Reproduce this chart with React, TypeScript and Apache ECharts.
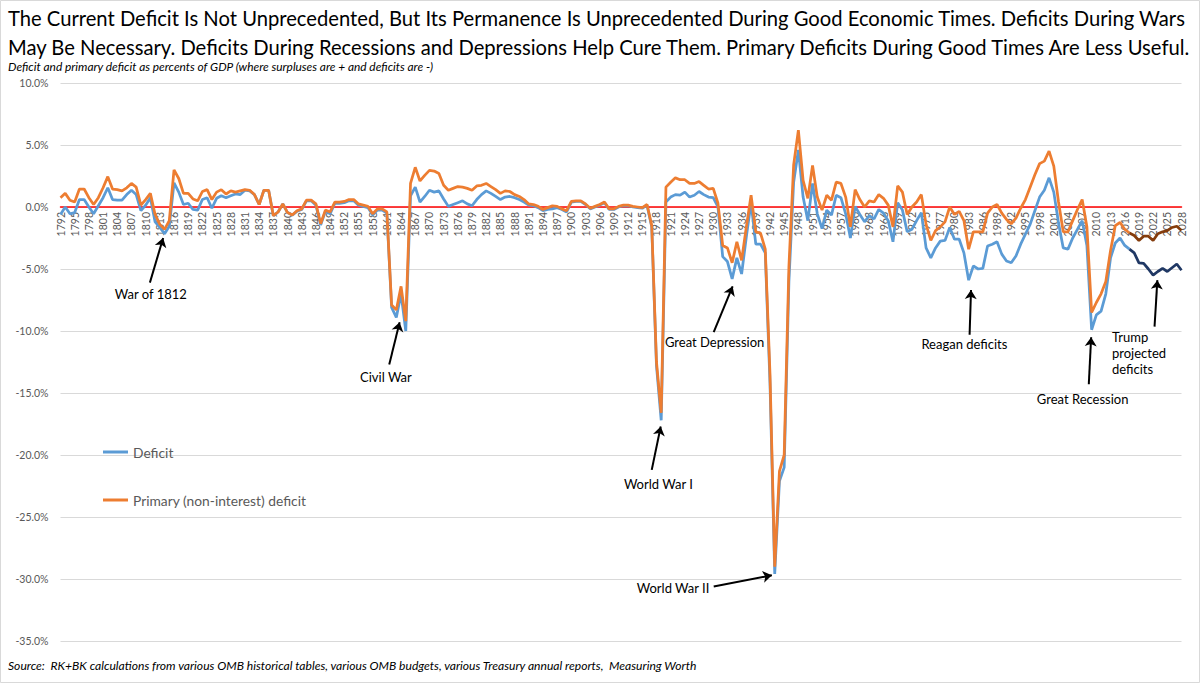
import React, { useEffect, useRef } from 'react'
import * as echarts from 'echarts'

const FONT = 'Lato, "Open Sans", sans-serif'

// fiscal years 1792–1976, the 1976 transition quarter, then 1977–2028
const yearsBeforeTQ: string[] = []
for (let y = 1792; y <= 1976; y++) yearsBeforeTQ.push(String(y))
const yearsAfterTQ: string[] = []
for (let y = 1977; y <= 2028; y++) yearsAfterTQ.push(String(y))
const categories = [...yearsBeforeTQ, 'TQ', ...yearsAfterTQ]

// total deficit, % of GDP, 1792 .. 2017 (TQ included)
const deficitActual = [
  -0.6, 0, -0.55, -0.45, 0.6, 0.6, 0, -0.55,
  0.1, 0.75, 1.55, 0.6, 0.55, 0.55, 1.0, 1.35, 1.0, -0.3,
  0.15, 0.75, -1.2, -1.65, -2.15, -1.55, 1.95, 1.2, 0.2, 0.3,
  -0.2, -0.25, 0.6, 0.75, -0.1, 0.7, 0.9, 0.75, 0.9, 1.05,
  1.0, 1.35, 1.3, 1.0, 0.2, 1.35, 1.35, -0.7, -0.4, 0.25,
  -0.45, -0.65, -0.35, -0.2, 0.5, 0.5, 0.15, -1.45, -0.35, -0.55,
  0.3, 0.3, 0.35, 0.5, 0.5, 0.15, 0.05, -0.05, -0.65, -0.25,
  -0.25, -0.5, -8.1, -8.9, -7.0, -10.0, 0.9, 1.6, 0.4, 0.85,
  1.35, 1.2, 1.3, 0.65, 0.05, 0.2, 0.35, 0.5, 0.25, 0.1,
  0.6, 1.0, 1.3, 1.1, 0.85, 0.6, 0.8, 0.85, 0.75, 0.6,
  0.4, 0.15, 0.1, -0.05, -0.3, -0.2, -0.15, -0.05, -0.2, -0.4,
  0.4, 0.45, 0.45, 0.2, -0.15, 0, 0.15, 0.35, -0.2, -0.2,
  0, 0.1, 0.1, 0, -0.05, -0.1, 0.15, -1.6, -12.8, -17.2,
  0.4, 0.8, 1.0, 0.95, 1.2, 0.8, 0.95, 1.25, 1.0, 0.8,
  0.75, 0, -4.0, -4.4, -5.8, -4.1, -5.4, -2.4, 0.35, -3.0,
  -3.0, -3.7, -14.2, -29.6, -22.1, -21.0, -6.0, 2.0, 4.6, 0.8,
  -1.1, 1.9, -0.55, -1.75, -0.25, -0.65, 0.95, 0.75, -0.55, -2.5,
  0.05, -0.6, -1.2, -0.7, -0.95, -0.2, -0.5, -1.1, -2.8, 0.35,
  -0.25, -2.0, -1.8, -1.1, -0.45, -3.3, -4.1,
  -3.3,
  -2.75, -2.7, -1.65,
  -2.6, -2.6, -3.7, -5.9, -4.75, -5.0, -4.95, -3.15, -3.0, -2.8,
  -3.8, -4.35, -4.5, -3.95, -3.0, -2.2, -1.4, -0.3, 0.8, 1.35,
  2.35, 1.2, -1.3, -3.3, -3.4, -2.5, -1.8, -1.1, -3.1, -9.9,
  -8.7, -8.4, -7.0, -4.1, -2.9, -2.5, -3.1, -3.4,
]

// primary (non-interest) deficit, % of GDP, 1792 .. 2017 (TQ included)
const primaryActual = [
  0.75, 1.1, 0.55, 0.4, 1.45, 1.45, 0.75, 0.2,
  0.75, 1.55, 2.45, 1.45, 1.4, 1.3, 1.55, 1.9, 1.6, 0.15,
  0.6, 1.1, -0.6, -1.4, -1.8, -1.1, 3.0, 2.3, 1.1, 1.1,
  0.65, 0.5, 1.25, 1.4, 0.6, 1.2, 1.4, 1.05, 1.3, 1.2,
  1.3, 1.4, 1.35, 1.0, 0.2, 1.35, 1.35, -0.7, -0.4, 0.25,
  -0.45, -0.65, -0.3, -0.15, 0.55, 0.55, 0.25, -1.35, -0.25, -0.4,
  0.4, 0.4, 0.45, 0.6, 0.6, 0.25, 0.15, 0.05, -0.55, -0.15,
  -0.15, -0.4, -7.9, -8.3, -6.4, -9.2, 1.9, 3.2, 2.1, 2.55,
  2.95, 2.9, 2.7, 1.75, 1.35, 1.5, 1.65, 1.6, 1.5, 1.35,
  1.7, 1.75, 1.9, 1.65, 1.4, 1.1, 1.3, 1.25, 1.0, 0.85,
  0.6, 0.25, 0.2, 0.05, -0.2, -0.05, 0.1, 0.05, -0.15, -0.3,
  0.45, 0.5, 0.5, 0.25, -0.1, 0.05, 0.2, 0.4, -0.15, -0.15,
  0.05, 0.15, 0.15, 0.05, 0, -0.05, 0.2, -1.5, -12.5, -16.6,
  1.6, 2.0, 2.35, 2.2, 2.2, 1.9, 1.9, 2.05, 1.75, 1.45,
  1.5, 0.3, -3.1, -3.3, -4.5, -2.8, -4.3, -1.6, 0.95, -2.0,
  -2.1, -3.4, -13.5, -29.0, -21.3, -20.0, -4.8, 3.4, 6.2, 2.15,
  0.7, 3.35, 0.8, -0.25, 0.95, 0.55, 2.0, 1.9, 0.8, -1.6,
  1.4, 0.6, 0, 0.5, 0.4, 1.0, 0.7, 0.15, -1.6, 1.7,
  1.2, -0.6, 0, 0.4, 1.0, -1.4, -2.7,
  -1.9,
  -1.6, -1.2, 0,
  -0.6, -0.35, -1.1, -3.4, -2.0, -2.0, -2.0, -0.5, 0, 0.2,
  -0.5, -1.0, -1.35, -0.9, -0.1, 0.6, 1.6, 2.6, 3.5, 3.7,
  4.5, 3.3, 0.4, -2.0, -2.0, -1.1, -0.2, 0.6, -1.6, -8.5,
  -7.7, -7.0, -6.0, -3.5, -1.5, -1.25, -1.8, -2.1,
]

// projections 2018 .. 2028
const deficitProjected = [-3.7, -4.5, -4.55, -5.0, -5.5, -5.2, -4.95, -5.2, -4.9, -4.6, -5.1]
const primaryProjected = [-2.3, -2.7, -2.35, -2.35, -2.7, -2.15, -2.0, -1.9, -1.65, -1.55, -1.9]

const yTicks = { min: -35, max: 10, step: 5 }

// annotations, in (category index, percent) units
const notes = [
  { text: 'War of 1812', at: [19.1, -7.0], from: [18.9, -6.1], to: [21.7, -2.5] },
  { text: 'Civil War', at: [68.8, -13.7], from: [69.5, -12.7], to: [71.7, -9.3] },
  { text: 'World War I', at: [126.4, -22.3], from: [125.0, -21.2], to: [126.9, -17.7] },
  { text: 'Great Depression', at: [138.3, -10.9], from: [138.1, -10.1], to: [142.1, -6.4] },
  { text: 'World War II', at: [129.5, -30.7], from: [138.1, -30.6], to: [150.4, -29.7] },
  { text: 'Reagan deficits', at: [191.1, -11.05], from: [192.2, -10.3], to: [192.5, -6.7] },
  { text: 'Great Recession', at: [216.1, -15.5], from: [217.4, -14.3], to: [217.9, -10.5] },
  { text: 'Trump\nprojected\ndeficits', at: [222.3, -11.8], from: [231.3, -9.65], to: [231.9, -5.9], left: true },
]

const GRID = { left: 60.5, right: 18.5, top: 83, bottom: 42 }

const App: React.FC = () => {
  const chartRef = useRef<HTMLDivElement>(null)

  useEffect(() => {
    document.body.style.margin = '0'
    if (!chartRef.current) return
    const chart = echarts.init(chartRef.current, undefined, { renderer: 'svg' })

    const n = categories.length
    const lastActual = deficitActual.length - 1
    const pad = (arr: (number | null)[]) => arr.concat(new Array(n - arr.length).fill(null))
    const projData = (actual: number[], proj: number[]) =>
      (new Array(lastActual).fill(null) as (number | null)[]).concat([actual[lastActual], ...proj])

    // the year axis sits on the 0% line, with its labels hanging below it
    const plotHeight = chart.getHeight() - GRID.top - GRID.bottom
    const zeroOffset = -plotHeight * (0 - yTicks.min) / (yTicks.max - yTicks.min)

    const lineBase = {
      type: 'line',
      symbol: 'none',
      smooth: false,
      connectNulls: false,
      xAxisIndex: 0,
    }

    chart.setOption({
      animation: false,
      textStyle: { fontFamily: FONT },
      graphic: [
        {
          type: 'rect',
          silent: true,
          z: -10,
          shape: { x: 0.5, y: 0.5, width: chart.getWidth() - 1, height: chart.getHeight() - 1 },
          style: { fill: 'none', stroke: '#D9D9D9', lineWidth: 1 },
        },
      ],
      title: [
        {
          text:
            'The Current Deficit Is Not Unprecedented, But Its Permanence Is Unprecedented During Good Economic Times. Deficits During Wars\n' +
            'May Be Necessary. Deficits During Recessions and Depressions Help Cure Them. Primary Deficits During Good Times Are Less Useful.',
          left: 3,
          top: -2,
          textStyle: { fontFamily: FONT, fontSize: 20.2, fontWeight: 'normal', color: '#000', lineHeight: 29 },
        },
        {
          text: 'Deficit and primary deficit as percents of GDP (where surpluses are + and deficits are -)',
          left: 3,
          top: 55,
          textStyle: { fontFamily: FONT, fontSize: 11.9, fontStyle: 'italic', fontWeight: 'normal', color: '#000' },
        },
        {
          text: 'Source:  RK+BK calculations from various OMB historical tables, various OMB budgets, various Treasury annual reports,  Measuring Worth',
          left: 3,
          top: 654,
          textStyle: { fontFamily: FONT, fontSize: 12.1, fontStyle: 'italic', fontWeight: 'normal', color: '#000' },
        },
      ],
      legend: {
        data: ['Deficit', 'Primary (non-interest) deficit'],
        orient: 'vertical',
        left: 98,
        top: 440,
        itemGap: 34,
        itemWidth: 25,
        itemHeight: 3,
        icon: 'rect',
        textStyle: { fontFamily: FONT, fontSize: 13.8, color: '#595959' },
      },
      grid: GRID,
      xAxis: [
        {
          type: 'category',
          data: categories,
          boundaryGap: false,
          position: 'bottom',
          offset: zeroOffset,
          axisLine: { onZero: false, lineStyle: { color: '#FF0000', width: 1.5 } },
          axisTick: { show: false },
          axisLabel: {
            interval: 2,
            rotate: 90,
            fontSize: 10.5,
            color: '#595959',
            margin: 5,
            fontFamily: FONT,
          },
          splitLine: { show: false },
        },
        {
          type: 'value',
          min: 0,
          max: n - 1,
          show: false,
          splitLine: { show: false },
        },
      ],
      yAxis: {
        type: 'value',
        min: yTicks.min,
        max: yTicks.max,
        interval: yTicks.step,
        axisLine: { show: false },
        axisTick: { show: false },
        axisLabel: {
          formatter: (v: number) => `${v.toFixed(1)}%`,
          fontSize: 10.5,
          color: '#595959',
          margin: 12,
          fontFamily: FONT,
        },
        splitLine: { lineStyle: { color: '#D9D9D9', width: 1 } },
      },
      series: [
        {
          ...lineBase,
          name: 'Deficit',
          data: pad(deficitActual),
          itemStyle: { color: '#5B9BD5' },
          lineStyle: { color: '#5B9BD5', width: 2.75 },
        },
        {
          ...lineBase,
          name: 'Primary (non-interest) deficit',
          data: pad(primaryActual),
          itemStyle: { color: '#ED7D31' },
          lineStyle: { color: '#ED7D31', width: 2.75 },
        },
        {
          ...lineBase,
          name: 'Deficit (projected)',
          data: projData(deficitActual, deficitProjected),
          itemStyle: { color: '#203864' },
          lineStyle: { color: '#203864', width: 2.75 },
        },
        {
          ...lineBase,
          name: 'Primary deficit (projected)',
          data: projData(primaryActual, primaryProjected),
          itemStyle: { color: '#843C0C' },
          lineStyle: { color: '#843C0C', width: 2.75 },
        },
        {
          type: 'line',
          name: 'notes',
          xAxisIndex: 1,
          data: [],
          symbol: 'none',
          silent: true,
          markLine: {
            silent: true,
            symbol: ['none', 'arrow'],
            symbolSize: 9,
            lineStyle: { color: '#000', width: 2, type: 'solid' },
            label: { show: false },
            data: notes.map(a => [{ coord: a.from }, { coord: a.to }]),
          },
          markPoint: {
            silent: true,
            symbol: 'circle',
            symbolSize: 1,
            itemStyle: { color: 'rgba(0,0,0,0)' },
            data: notes.map(a => ({
              coord: a.at,
              label: {
                show: true,
                position: 'inside',
                formatter: a.text,
                color: '#000',
                fontSize: 13,
                lineHeight: 16,
                fontFamily: FONT,
                align: a.left ? 'left' : 'center',
                verticalAlign: 'middle',
              },
            })),
          },
        },
      ],
    })

    return () => {
      chart.dispose()
    }
  }, [])

  return (
    <div
      ref={chartRef}
      style={{
        width: 1200,
        height: 683,
        background: '#fff',
      }}
    />
  )
}

export default App
